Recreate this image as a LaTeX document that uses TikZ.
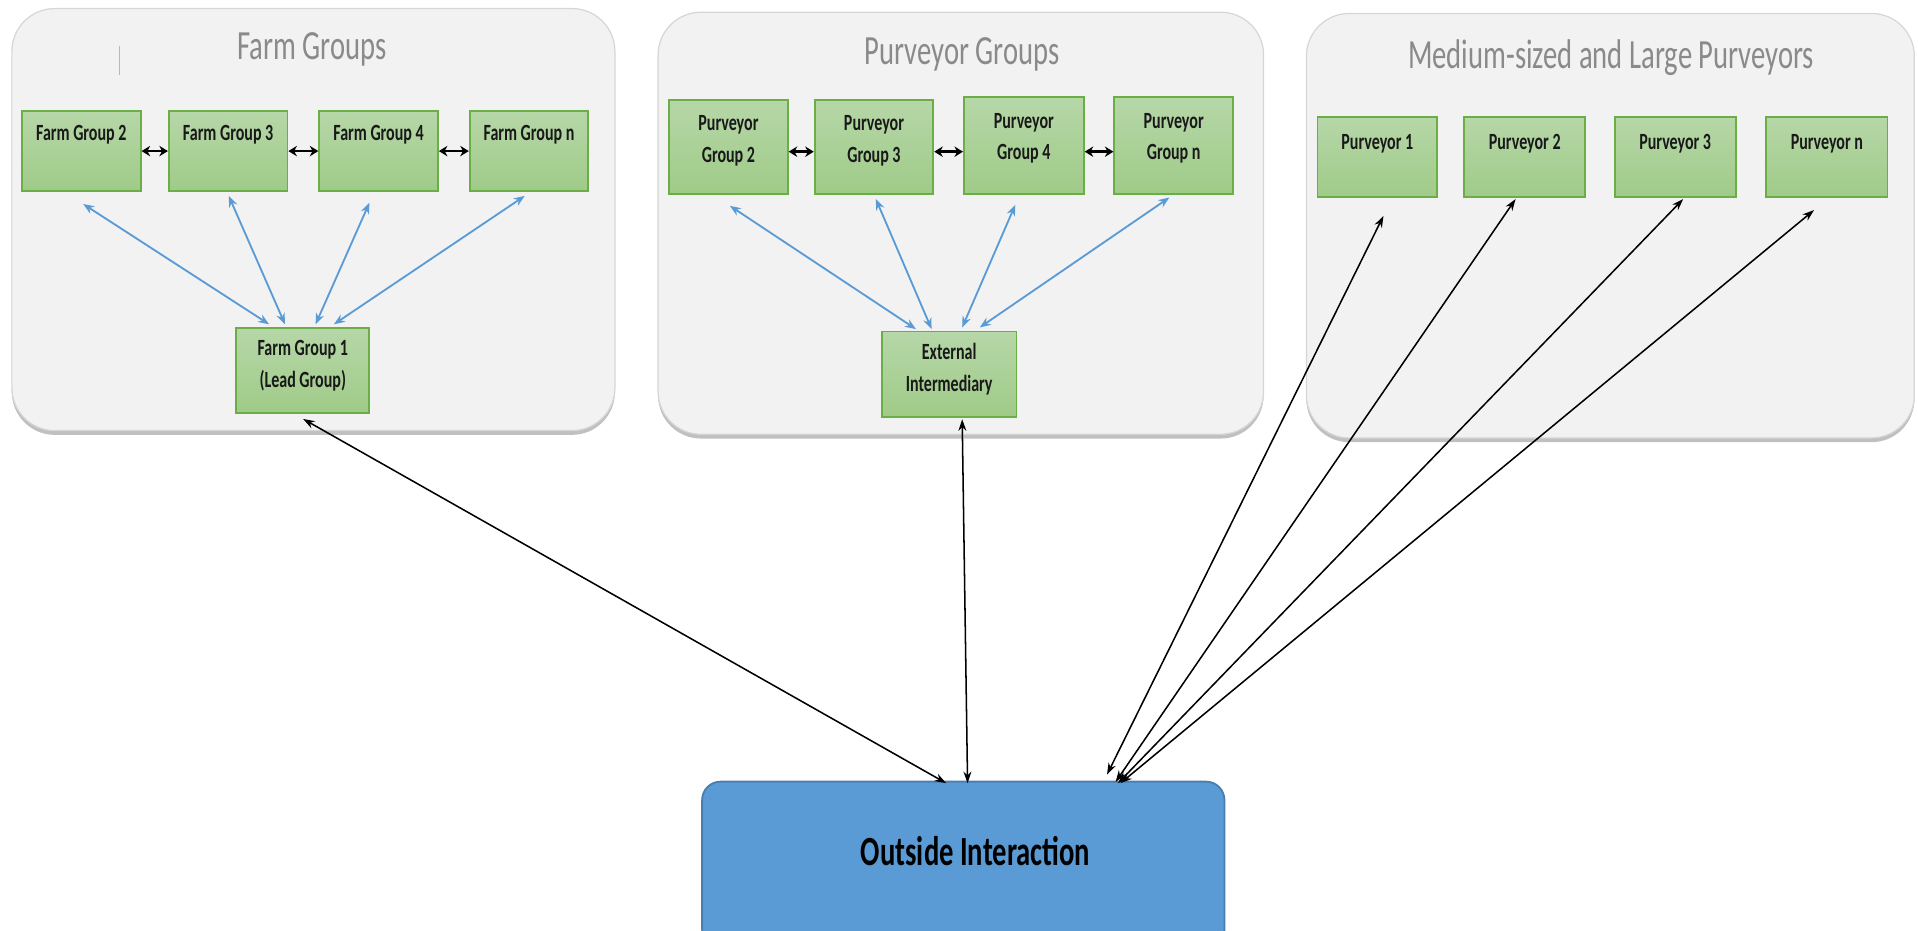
\documentclass[tikz,border=0pt]{standalone}
\usepackage{fontspec}
\setmainfont{Carlito}[FakeStretch=0.69]
\usetikzlibrary{arrows.meta,shadows}
\definecolor{panelfill}{HTML}{F2F2F2}
\definecolor{panelline}{HTML}{D6D6D6}
\definecolor{titlegray}{HTML}{8A8A8A}
\definecolor{gtop}{HTML}{B6D7A8}
\definecolor{gbot}{HTML}{9FCB88}
\definecolor{gborder}{HTML}{6AAE45}
\definecolor{outfill}{HTML}{5B9BD5}
\definecolor{outline}{HTML}{4A7EB0}
\definecolor{bluearrow}{HTML}{5B9BD5}
\tikzset{
  sz/.style 2 args={minimum width=#1*0.2mm, minimum height=#2*0.2mm},
  panel/.style={rectangle, draw=panelline, line width=0.2mm, fill=panelfill, rounded corners=7mm, inner sep=0pt,
    drop shadow={shadow xshift=0mm, shadow yshift=-0.7mm, opacity=0.45, fill=black!55}},
  ptitle/.style={text=titlegray, font=\fontsize{19.3}{23}\selectfont, anchor=base, inner sep=0pt},
  gbox/.style={rectangle, draw=gborder, line width=0.3mm, top color=gtop, bottom color=gbot, inner sep=0pt},
  btext/.style={font=\bfseries\fontsize{10.8}{14.8}\selectfont, align=center, inner sep=0pt, text=black!90},
  outbox/.style={rectangle, draw=outline, line width=0.3mm, fill=outfill, rounded corners=3mm, inner sep=0pt},
  bluelink/.style={draw=bluearrow, line width=0.3mm, {Stealth[length=1.8mm,width=1.4mm]}-{Stealth[length=1.8mm,width=1.4mm]}},
  blklink/.style={draw=black, line width=0.25mm, {Stealth[length=1.9mm,width=1.3mm]}-{Stealth[length=1.9mm,width=1.3mm]}},
  shortlink/.style={draw=black, line width=0.45mm, {Stealth[length=1.4mm,width=1.7mm]}-{Stealth[length=1.4mm,width=1.7mm]}},
}
\begin{document}
\begin{tikzpicture}[x=0.2mm,y=-0.2mm]
\useasboundingbox (0,0) rectangle (1568,761);

% panels
\node[panel, sz={493}{345}] (farm) at (256.2,179.5) {};
\node[panel, sz={495}{345}] (purv) at (785.5,182.5) {};
\node[panel, sz={497}{347}] (med) at (1316.5,184.5) {};

\node[ptitle] (farmt) at (255,49) {Farm Groups};
\node[ptitle] (purvt) at (786.6,53) {Purveyor Groups};
\node[ptitle] (medt) at (1317,56) {Medium-sized and Large Purveyors};
\draw[gray!55, line width=0.2mm] (98,38) -- (98,61);

% farm boxes
\node[gbox, sz={97}{65}] (fg2) at (66.5,123.5) {};
\node[gbox, sz={97}{65}] (fg3) at (186.5,123.5) {};
\node[gbox, sz={97}{65}] (fg4) at (309.5,123.5) {};
\node[gbox, sz={97}{65}] (fgn) at (432.5,123.5) {};
\node[gbox, sz={109}{69.5}] (fg1) at (247.5,303) {};
\node[btext, anchor=base] (fg2t) at ([shift={(0,24.8)}]fg2.north) {Farm Group 2};
\node[btext, anchor=base] (fg3t) at ([shift={(0,24.8)}]fg3.north) {Farm Group 3};
\node[btext, anchor=base] (fg4t) at ([shift={(0,24.8)}]fg4.north) {Farm Group 4};
\node[btext, anchor=base] (fgnt) at ([shift={(0,24.8)}]fgn.north) {Farm Group n};
\node[btext] (fg1t) at ([shift={(0,-4)}]fg1.center) {Farm Group 1\\(Lead Group)};

% purveyor group boxes
\node[gbox, sz={97}{77}] (pg2) at (595.5,120) {};
\node[gbox, sz={97}{77}] (pg3) at (714.5,120) {};
\node[gbox, sz={98}{79}] (pg4) at (837,119) {};
\node[gbox, sz={97}{79}] (pgn) at (959.5,119) {};
\node[gbox, sz={110}{69.6}] (ext) at (776,305.8) {};
\node[btext] (pg2t) at ([shift={(0,-5)}]pg2.center) {Purveyor\\Group 2};
\node[btext] (pg3t) at ([shift={(0,-5)}]pg3.center) {Purveyor\\Group 3};
\node[btext] (pg4t) at ([shift={(0,-6)}]pg4.center) {Purveyor\\Group 4};
\node[btext] (pgnt) at ([shift={(0,-6)}]pgn.center) {Purveyor\\Group n};
\node[btext] (extt) at ([shift={(0,-4)}]ext.center) {External\\Intermediary};

% purveyors
\node[gbox, sz={98}{65.4}] (p1) at (1126,128.6) {};
\node[gbox, sz={99}{65.4}] (p2) at (1246.5,128.6) {};
\node[gbox, sz={99}{65.4}] (p3) at (1369.5,128.6) {};
\node[gbox, sz={99}{65.4}] (pn) at (1493.5,128.6) {};
\node[btext, anchor=base] (p1t) at ([shift={(0,26.7)}]p1.north) {Purveyor 1};
\node[btext, anchor=base] (p2t) at ([shift={(0,26.7)}]p2.north) {Purveyor 2};
\node[btext, anchor=base] (p3t) at ([shift={(0,26.7)}]p3.north) {Purveyor 3};
\node[btext, anchor=base] (pnt) at ([shift={(0,26.7)}]pn.north) {Purveyor n};

% outside
\node[outbox, sz={427}{136}] (out) at (787.5,707) {};
\node[font=\bfseries\fontsize{19.3}{23}\selectfont, anchor=base, inner sep=0pt] (outt) at ([shift={(10,69.6)}]out.north) {Outside Interaction};

% short links
\draw[shortlink] (fg2.east) -- (fg3.west);
\draw[shortlink] (fg3.east) -- (fg4.west);
\draw[shortlink] (fg4.east) -- (fgn.west);
\draw[shortlink] ([shift={(0,4)}]pg2.east) -- ([shift={(0,4)}]pg3.west);
\draw[shortlink] ([shift={(0,4)}]pg3.east) -- ([shift={(0,5)}]pg4.west);
\draw[shortlink] ([shift={(0,5)}]pg4.east) -- ([shift={(0,5)}]pgn.west);

% blue links farm
\draw[bluelink] ([shift={(1.5,10)}]fg2.south) -- ([shift={(-27.5,-2.4)}]fg1.north);
\draw[bluelink] ([shift={(0.5,3.4)}]fg3.south) -- ([shift={(-14.5,-2.4)}]fg1.north);
\draw[bluelink] ([shift={(-7.5,9)}]fg4.south) -- ([shift={(10.5,-2.4)}]fg1.north);
\draw[bluelink] ([shift={(-3.5,3.4)}]fgn.south) -- ([shift={(25.5,-2.4)}]fg1.north);

% blue links purveyor groups
\draw[bluelink] ([shift={(1.2,9)}]pg2.south) -- ([shift={(-27.2,-1.2)}]ext.north);
\draw[bluelink] ([shift={(1.5,3.4)}]pg3.south) -- ([shift={(-14.4,-1.2)}]ext.north);
\draw[bluelink] ([shift={(-7,8.2)}]pg4.south) -- ([shift={(10.6,-2.6)}]ext.north);
\draw[bluelink] ([shift={(-3.5,2.2)}]pgn.south) -- ([shift={(25,-2.6)}]ext.north);

% black links to outside
\draw[blklink] ([shift={(0.3,4)}]fg1.south) -- ([shift={(-14,2)}]out.north);
\draw[blklink] ([shift={(10.6,1.4)}]ext.south) -- ([shift={(3.5,2)}]out.north);
\draw[blklink] ([shift={(5,14.4)}]p1.south) -- ([shift={(117.5,-5)}]out.north);
\draw[blklink] ([shift={(-7.5,0.7)}]p2.south) -- ([shift={(124.5,1)}]out.north);
\draw[blklink] ([shift={(6.5,0.7)}]p3.south) -- ([shift={(126.5,2)}]out.north);
\draw[blklink] ([shift={(-10.5,9.7)}]pn.south) -- ([shift={(128.5,2)}]out.north);
\end{tikzpicture}
\end{document}
